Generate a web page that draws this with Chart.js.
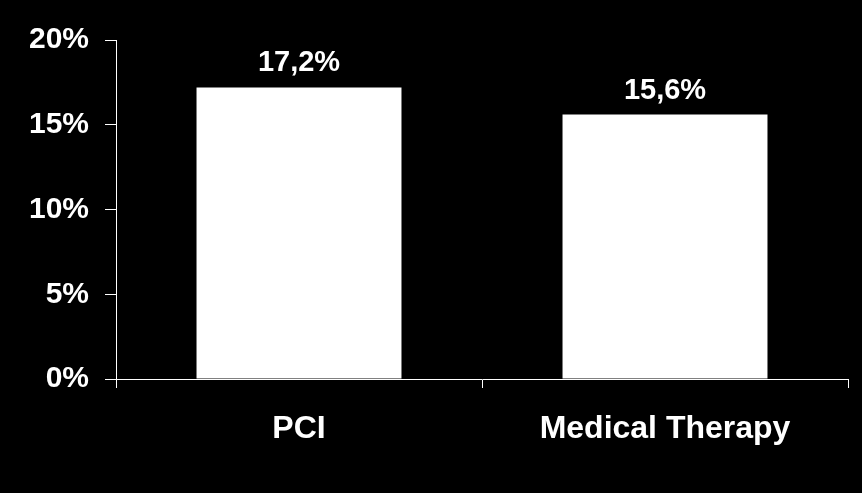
<!DOCTYPE html>
<html>
<head>
<meta charset="utf-8">
<script src="https://cdn.jsdelivr.net/npm/chart.js@4.4.0/dist/chart.umd.min.js"></script>
<style>
  html, body { margin: 0; padding: 0; background: #000; }
  #wrap { width: 862px; height: 493px; }
</style>
</head>
<body>
<div id="wrap"><canvas id="myChart"></canvas></div>
<script>
// data
const categories = ["PCI", "Medical Therapy"];
const rates = [17.2, 15.6];
const valueLabels = ["17,2%", "15,6%"];
const yTicks = [0, 5, 10, 15, 20];

const fontFamily = "'Liberation Sans', Arial, sans-serif";

// draws the value text above every bar
const barLabels = {
    id: 'barLabels',
    afterDatasetsDraw(chart) {
        const ctx = chart.ctx;
        const meta = chart.getDatasetMeta(0);
        ctx.save();
        ctx.fillStyle = '#fff';
        ctx.font = 'bold 29px ' + fontFamily;
        ctx.textAlign = 'center';
        ctx.textBaseline = 'alphabetic';
        meta.data.forEach((bar, i) => {
            ctx.fillText(valueLabels[i], bar.x, bar.y - 16);
        });
        ctx.restore();
    }
};

const ctx1 = document.getElementById('myChart').getContext('2d');
let chart = new Chart(ctx1, {
    type: "bar",
    data: {
        labels: categories,
        datasets: [
            {
                data: rates,
                backgroundColor: "#fff",
                borderWidth: 0,
                barPercentage: 0.56,
                categoryPercentage: 1.0
            }
        ]
    },
    options: {
        responsive: true,
        maintainAspectRatio: false,
        animation: false,
        layout: { padding: { top: 40, right: 14, bottom: 0, left: 0 } },
        plugins: {
            legend: { display: false },
            tooltip: { enabled: false }
        },
        scales: {
            x: {
                afterFit(scale) { scale.height = 114; },
                border: { color: '#fff', width: 1 },
                grid: {
                    offset: true,
                    drawOnChartArea: false,
                    drawTicks: true,
                    tickLength: 9,
                    color: '#fff'
                },
                ticks: {
                    color: '#fff',
                    padding: 22,
                    font: { family: fontFamily, size: 32, weight: 'bold' }
                }
            },
            y: {
                min: 0,
                max: 20,
                afterFit(scale) { scale.width = 116; },
                afterBuildTicks(scale) {
                    scale.ticks = yTicks.map(v => ({ value: v }));
                },
                border: { color: '#fff', width: 1 },
                grid: {
                    drawOnChartArea: false,
                    drawTicks: true,
                    tickLength: 11,
                    color: '#fff'
                },
                ticks: {
                    color: '#fff',
                    padding: 16,
                    font: { family: fontFamily, size: 30, weight: 'bold' },
                    callback: (v) => v + '%'
                }
            }
        }
    },
    plugins: [barLabels]
});
</script>
</body>
</html>
